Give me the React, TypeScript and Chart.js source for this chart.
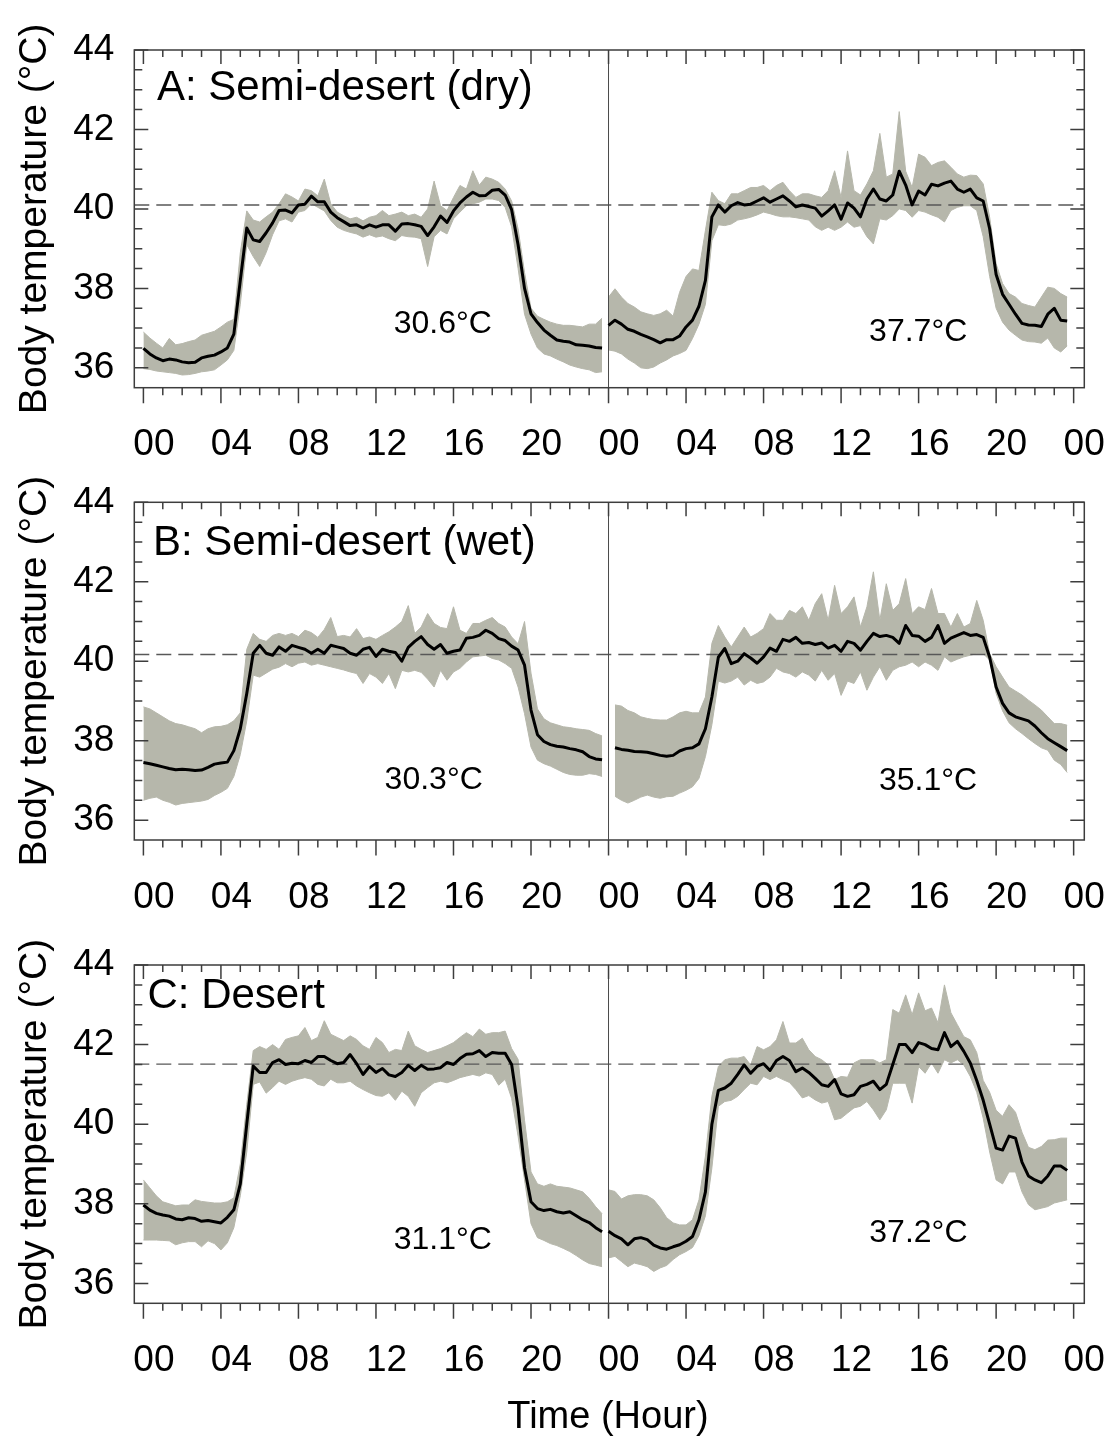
import React, { useEffect, useRef } from "react";
import { Chart, registerables } from "chart.js";

Chart.register(...registerables);

// ---------- axis definitions ----------
const STEP_HOURS = 1 / 3; // readings every 20 minutes
const X_MIN = -0.47;
const X_MAX = 48.55;
const Y_MIN = 35.5;
const Y_MAX = 44;

const xTickHours = [0, 4, 8, 12, 16, 20, 24, 28, 32, 36, 40, 44, 48];
const xTickLabels = ["00", "04", "08", "12", "16", "20", "00", "04", "08", "12", "16", "20", "00"];
const yTickValues = [36, 38, 40, 42, 44];

// ---------- Panel A: Semi-desert (dry) ----------
const semiDryDay1Mean = [
  36.49, 36.35, 36.25, 36.18, 36.22, 36.2, 36.15, 36.13, 36.14, 36.25, 36.29, 36.32,
  36.4, 36.5, 36.85, 38.2, 39.52, 39.22, 39.18, 39.4, 39.65, 39.96, 39.97, 39.9,
  40.1, 40.12, 40.32, 40.18, 40.18, 39.92, 39.78, 39.68, 39.58, 39.6, 39.52, 39.6,
  39.54, 39.6, 39.6, 39.44, 39.62, 39.63, 39.6, 39.56, 39.33, 39.55, 39.82, 39.66,
  39.95, 40.15, 40.3, 40.42, 40.33, 40.34, 40.47, 40.49, 40.35, 39.98, 39.1, 38.0,
  37.36, 37.14, 36.95, 36.82, 36.7, 36.67, 36.65, 36.58, 36.57, 36.55, 36.51, 36.5,
];
const semiDryDay1Upper = [
  36.9, 36.75, 36.62, 36.5, 36.74, 36.58, 36.61, 36.66, 36.7, 36.82, 36.87, 36.92,
  37.03, 37.15, 37.22, 38.9, 39.95, 39.72, 39.67, 39.8, 39.92, 40.13, 40.38, 40.3,
  40.2, 40.5, 40.46, 40.33, 40.75, 40.13, 39.92, 39.83, 39.75, 39.79, 39.7, 39.79,
  39.83, 39.96, 39.83, 39.87, 39.92, 39.83, 39.87, 39.79, 40.0, 40.7, 40.08, 39.96,
  40.29, 40.59, 40.5, 40.96, 40.6, 40.8, 40.75, 40.67, 40.5, 40.2, 39.5, 38.4,
  37.5, 37.3, 37.22, 37.15, 37.1, 37.07, 37.07, 37.05, 37.03, 37.1, 37.1, 37.25,
];
const semiDryDay1Lower = [
  35.98, 35.96, 35.92, 35.9, 35.88, 35.86, 35.82, 35.83, 35.86, 35.9, 35.92, 35.95,
  36.07, 36.2, 36.44, 37.6, 39.1, 38.8, 38.55, 38.9, 39.35, 39.7, 39.75, 39.67,
  39.92, 39.96, 40.13, 40.04, 39.95, 39.71, 39.54, 39.46, 39.41, 39.37, 39.29, 39.35,
  39.29, 39.32, 39.25, 39.2, 39.33, 39.3, 39.29, 39.25, 38.55, 39.3, 39.46, 39.37,
  39.75, 39.92, 40.08, 40.13, 40.17, 40.25, 40.25, 40.21, 40.04, 39.55, 38.5, 37.35,
  36.85, 36.5, 36.35, 36.3, 36.22, 36.15, 36.07, 36.02, 35.98, 35.95, 35.88, 35.9,
];
const semiDryDay2Mean = [
  37.07, 37.2, 37.1, 36.97, 36.92, 36.84, 36.78, 36.71, 36.63, 36.71, 36.71, 36.8,
  37.03, 37.2, 37.55, 38.2, 39.8, 40.1, 39.92, 40.08, 40.16, 40.1, 40.12, 40.2,
  40.28, 40.17, 40.25, 40.33, 40.2, 40.05, 40.1, 40.06, 40.02, 39.82, 39.95, 40.1,
  39.74, 40.15, 40.02, 39.8, 40.25, 40.5, 40.25, 40.2, 40.35, 40.95, 40.6, 40.1,
  40.45, 40.35, 40.62, 40.58, 40.65, 40.7, 40.5, 40.42, 40.5, 40.28, 40.2, 39.5,
  38.35, 37.85, 37.6, 37.35, 37.12, 37.08, 37.07, 37.04, 37.35, 37.5, 37.2, 37.18,
];
const semiDryDay2Upper = [
  37.78, 37.99, 37.78, 37.62, 37.53, 37.41, 37.36, 37.32, 37.36, 37.45, 37.3, 37.9,
  38.3, 38.49, 38.45, 39.46, 40.42, 40.21, 40.13, 40.38, 40.38, 40.46, 40.54, 40.54,
  40.59, 40.46, 40.59, 40.67, 40.46, 40.29, 40.38, 40.38, 40.33, 40.29, 40.46, 40.96,
  40.29, 41.46, 40.46, 40.35, 40.63, 40.96, 41.9, 40.8, 40.88, 42.45, 40.95, 40.54,
  41.38, 41.3, 41.09, 41.17, 41.21, 41.05, 40.88, 40.8, 40.85, 40.84, 40.63, 39.79,
  38.62, 38.12, 37.87, 37.78, 37.62, 37.57, 37.53, 37.78, 38.03, 38.0, 37.87, 37.78,
];
const semiDryDay2Lower = [
  36.45, 36.42, 36.35, 36.22, 36.12, 36.0, 35.98, 36.02, 36.12, 36.2, 36.3, 36.36,
  36.44, 36.74, 37.1, 37.6, 39.2, 39.6, 39.58, 39.62, 39.72, 39.75, 39.79, 39.85,
  39.92, 39.88, 39.83, 39.8, 39.8, 39.78, 39.75, 39.72, 39.55, 39.46, 39.54, 39.46,
  39.54, 39.67, 39.54, 39.58, 39.3, 39.12, 39.75, 39.72, 39.83, 40.0, 39.96, 39.79,
  39.96, 39.92, 39.85, 39.79, 39.67, 39.96, 40.04, 40.08, 40.08, 39.96, 39.3, 38.3,
  37.5, 37.15, 36.95, 36.82, 36.7, 36.66, 36.65, 36.62, 36.75, 36.5, 36.4, 36.55,
];

// ---------- Panel B: Semi-desert (wet) ----------
const semiWetDay1Mean = [
  37.45, 37.42, 37.38, 37.34, 37.3, 37.27, 37.28, 37.27, 37.25, 37.26, 37.33, 37.41,
  37.44, 37.46, 37.75, 38.3, 39.19, 40.2, 40.4, 40.2, 40.15, 40.36, 40.25, 40.4,
  40.35, 40.3, 40.2, 40.3, 40.2, 40.4, 40.36, 40.32, 40.2, 40.15, 40.3, 40.35,
  40.12, 40.3, 40.25, 40.22, 40.0, 40.35, 40.5, 40.62, 40.42, 40.3, 40.42, 40.2,
  40.25, 40.28, 40.58, 40.6, 40.65, 40.78, 40.7, 40.57, 40.52, 40.38, 40.28, 39.9,
  38.77, 38.15, 37.98, 37.9, 37.86, 37.84, 37.8, 37.77, 37.72, 37.6, 37.54, 37.52,
];
const semiWetDay1Upper = [
  38.85, 38.8, 38.7, 38.6, 38.5, 38.43, 38.4, 38.35, 38.3, 38.2, 38.3, 38.35,
  38.36, 38.4, 38.5, 38.7, 40.3, 40.7, 40.55, 40.5, 40.65, 40.7, 40.65, 40.7,
  40.62, 40.78, 40.72, 40.6, 40.8, 41.1, 40.62, 40.65, 40.61, 40.82, 40.57, 40.61,
  40.55, 40.65, 40.74, 40.86, 41.0, 41.4, 40.7, 40.86, 41.2, 40.95, 40.85, 40.82,
  41.37, 40.78, 40.7, 40.95, 40.95, 41.03, 41.1, 40.95, 40.86, 40.61, 40.44, 41.0,
  39.7, 38.8, 38.55, 38.45, 38.4, 38.35, 38.33, 38.3, 38.28, 38.26, 38.18, 38.12,
];
const semiWetDay1Lower = [
  36.5, 36.55, 36.58, 36.5, 36.45, 36.38, 36.42, 36.44, 36.46, 36.48, 36.52, 36.62,
  36.7, 36.8, 37.1, 37.65, 38.5, 39.65, 39.6, 39.7, 39.8, 39.85, 39.94, 39.86,
  39.95, 39.98, 39.9, 39.94, 39.9, 39.86, 39.82, 39.78, 39.73, 39.69, 39.44, 39.69,
  39.6, 39.44, 39.69, 39.31, 39.77, 39.73, 39.77, 39.72, 39.55, 39.35, 39.77, 39.52,
  39.73, 39.82, 39.98, 40.11, 40.13, 40.15, 40.07, 40.03, 39.94, 39.82, 39.35, 38.68,
  37.84, 37.51, 37.42, 37.36, 37.28, 37.2, 37.15, 37.13, 37.13, 37.17, 37.15, 37.1,
];
const semiWetDay2Mean = [
  null, 37.82, 37.78, 37.76, 37.73, 37.72, 37.71, 37.67, 37.63, 37.61, 37.63, 37.74,
  37.8, 37.82, 37.92, 38.3, 39.1, 40.1, 40.32, 39.94, 40.0, 40.19, 40.08, 39.95,
  40.11, 40.33, 40.25, 40.55, 40.5, 40.6, 40.45, 40.47, 40.42, 40.46, 40.33, 40.4,
  40.25, 40.5, 40.45, 40.28, 40.5, 40.7, 40.62, 40.65, 40.6, 40.45, 40.9, 40.65,
  40.63, 40.5, 40.6, 40.9, 40.45, 40.58, 40.65, 40.72, 40.65, 40.67, 40.6, 40.1,
  39.35, 38.94, 38.7, 38.6, 38.55, 38.5, 38.37, 38.2, 38.05, 37.95, 37.85, 37.75,
];
const semiWetDay2Upper = [
  null, 38.9, 38.87, 38.76, 38.7, 38.6, 38.56, 38.53, 38.52, 38.52, 38.6, 38.7,
  38.74, 38.7, 38.7, 39.1, 40.45, 40.9, 40.61, 40.36, 40.61, 40.86, 40.61, 40.7,
  40.82, 41.2, 41.03, 41.03, 41.28, 41.2, 41.37, 41.03, 41.45, 41.7, 41.03, 41.91,
  41.2, 41.37, 41.62, 40.86, 41.37, 42.25, 41.03, 41.95, 41.28, 41.45, 42.08, 41.2,
  41.37, 41.3, 41.83, 41.2, 41.2, 40.86, 41.2, 40.86, 40.95, 41.53, 41.03, 40.19,
  39.86, 39.6, 39.35, 39.25, 39.15, 39.02, 38.9, 38.77, 38.6, 38.43, 38.43, 38.39,
];
const semiWetDay2Lower = [
  null, 36.6, 36.5, 36.43, 36.5, 36.58, 36.63, 36.58, 36.55, 36.59, 36.6, 36.68,
  36.75, 36.84, 37.05, 37.6, 38.4, 39.5, 39.45, 39.5, 39.6, 39.4, 39.52, 39.44,
  39.48, 39.6, 39.82, 39.73, 39.69, 39.6, 39.73, 39.65, 39.5, 39.77, 39.52, 39.69,
  39.14, 39.5, 39.44, 39.73, 39.27, 39.6, 39.86, 39.52, 39.77, 39.86, 39.9, 39.98,
  39.86, 39.98, 39.9, 39.77, 40.11, 39.98, 40.05, 40.11, 40.15, 40.19, 40.19, 40.03,
  39.19, 38.75, 38.45, 38.3, 38.18, 38.05, 37.93, 37.82, 37.76, 37.51, 37.4, 37.2,
];

// ---------- Panel C: Desert ----------
const desertDay1Mean = [
  37.97, 37.84, 37.76, 37.72, 37.69, 37.62, 37.6, 37.65, 37.63, 37.56, 37.58, 37.55,
  37.52, 37.66, 37.85, 38.5, 40.0, 41.46, 41.3, 41.3, 41.55, 41.62, 41.5, 41.53,
  41.52, 41.6, 41.55, 41.7, 41.7, 41.6, 41.52, 41.55, 41.75, 41.52, 41.25, 41.45,
  41.3, 41.4, 41.24, 41.2, 41.3, 41.48, 41.35, 41.48, 41.38, 41.39, 41.42, 41.55,
  41.5, 41.65, 41.76, 41.77, 41.85, 41.7, 41.8, 41.78, 41.78, 41.5, 40.4, 38.9,
  38.05, 37.88, 37.83, 37.86, 37.8, 37.77, 37.8, 37.7, 37.6, 37.53, 37.4, 37.3,
];
const desertDay1Upper = [
  38.6, 38.4, 38.2, 38.05, 38.0, 37.95, 37.97, 37.97, 38.1, 38.06, 38.04, 38.02,
  38.02, 38.05, 38.15, 39.0, 40.5, 41.85, 41.95, 41.88, 42.0, 41.88, 42.13, 42.18,
  42.22, 42.43, 42.1, 42.18, 42.6, 42.26, 42.18, 42.1, 42.22, 42.13, 41.97, 41.88,
  42.18, 42.05, 41.8, 41.88, 41.85, 42.34, 41.97, 41.88, 41.8, 41.85, 41.9, 41.97,
  42.05, 42.18, 42.3, 42.2, 42.39, 42.26, 42.3, 42.3, 42.34, 41.9, 41.63, 40.1,
  38.8, 38.5, 38.44, 38.5, 38.44, 38.42, 38.4, 38.35, 38.3, 38.14, 37.93, 37.75,
];
const desertDay1Lower = [
  37.09, 37.09, 37.09, 37.08, 37.07, 36.97, 37.02, 37.05, 37.05, 36.92, 37.07, 37.0,
  36.84, 37.02, 37.4, 38.2, 39.3, 41.0, 41.06, 40.78, 40.92, 41.08, 41.0, 41.08,
  41.13, 41.17, 41.13, 41.0, 40.96, 41.13, 41.04, 41.04, 41.08, 40.96, 40.87, 40.79,
  40.72, 40.7, 40.79, 40.6, 40.83, 40.7, 40.45, 40.79, 40.92, 41.04, 41.08, 41.04,
  41.1, 41.17, 41.21, 41.25, 41.21, 41.29, 41.25, 40.98, 41.13, 40.65, 39.7, 38.6,
  37.5, 37.15, 37.08, 37.0, 36.95, 36.88, 36.8, 36.7, 36.59, 36.5, 36.46, 36.42,
];
const desertDay2Mean = [
  37.31, 37.2, 37.12, 36.97, 37.12, 37.15, 37.1, 36.96, 36.89, 36.86, 36.92, 36.97,
  37.06, 37.18, 37.6, 38.3, 40.0, 40.85, 40.91, 41.03, 41.25, 41.49, 41.28, 41.45,
  41.52, 41.35, 41.6, 41.7, 41.6, 41.32, 41.41, 41.3, 41.15, 40.99, 40.95, 41.12,
  40.76, 40.7, 40.74, 40.95, 41.0, 41.08, 40.87, 41.0, 41.5, 42.0, 42.0, 41.8,
  42.05, 42.0, 41.9, 41.87, 42.3, 41.95, 42.08, 41.83, 41.54, 41.1, 40.6, 40.0,
  39.4, 39.35, 39.7, 39.65, 39.05, 38.7, 38.6, 38.53, 38.7, 38.95, 38.95, 38.84,
];
const desertDay2Upper = [
  38.35, 38.31, 38.12, 38.2, 38.23, 38.23, 38.2, 38.1, 37.9, 37.65, 37.52, 37.47,
  37.47, 37.6, 38.1, 39.2, 40.7, 41.45, 41.62, 41.66, 41.66, 41.7, 41.49, 41.95,
  41.87, 41.95, 42.12, 42.58, 42.04, 42.04, 42.16, 41.87, 41.7, 41.62, 41.49, 41.12,
  41.2, 41.18, 41.54, 41.62, 41.62, 41.62, 41.54, 41.62, 42.88, 42.79, 43.25, 42.75,
  43.3, 42.85, 42.92, 42.55, 43.5, 42.8, 42.5, 42.2, 42.12, 41.8, 41.1, 40.8,
  40.35, 40.2, 40.49, 40.3, 39.8, 39.42, 39.36, 39.44, 39.6, 39.61, 39.65, 39.65,
];
const desertDay2Lower = [
  36.64, 36.68, 36.55, 36.42, 36.51, 36.47, 36.42, 36.3, 36.39, 36.45, 36.6, 36.72,
  36.8, 36.9, 37.2, 37.7, 38.9, 40.45, 40.57, 40.6, 40.7, 40.87, 41.03, 40.99,
  41.2, 41.12, 41.2, 41.12, 41.05, 40.87, 40.66, 40.72, 40.61, 40.53, 40.57, 40.11,
  40.15, 40.28, 40.41, 40.45, 40.57, 40.36, 40.11, 40.36, 41.03, 41.03, 41.03, 40.53,
  41.45, 41.28, 41.54, 41.28, 41.62, 41.54, 41.62, 41.49, 41.2, 40.8, 40.15, 39.3,
  38.6, 38.5, 38.8, 38.8, 38.3, 37.98, 37.85, 37.89, 37.93, 38.02, 38.06, 38.1,
];

// reference (dashed) temperatures
const referenceTemps = [40.1, 40.17, 41.51];
const panelTitles = ["A: Semi-desert (dry)", "B: Semi-desert (wet)", "C: Desert"];
const airTempLabels = [
  ["30.6°C", "37.7°C"],
  ["30.3°C", "35.1°C"],
  ["31.1°C", "37.2°C"],
];
const airTempLabelHours = [
  [15.45, 39.98],
  [14.98, 40.49],
  [15.45, 39.99],
];
const airTempLabelTemps = [
  [37.09, 36.89],
  [37.0, 36.99],
  [37.08, 37.25],
];

// ---------- styling / layout ----------
const BAND = "rgb(182,183,171)";
const AXIS = "#3d3d3d";
const FONT = '"Liberation Sans", Arial, Helvetica, sans-serif';
const WIDTH = 1109;

type Series = (number | null)[];
type Day = { start: number; mean: Series; upper: Series; lower: Series };
type Panel = {
  title: string;
  reference: number;
  days: Day[];
  notes: { text: string; hour: number; temp: number }[];
};
type Frame = {
  top: number;
  height: number;
  padTop: number;
  padBottom: number;
  titleX: number;
  titleY: number;
  xTitle: boolean;
};

const dayData: [Series, Series, Series][][] = [
  [
    [semiDryDay1Mean, semiDryDay1Upper, semiDryDay1Lower],
    [semiDryDay2Mean, semiDryDay2Upper, semiDryDay2Lower],
  ],
  [
    [semiWetDay1Mean, semiWetDay1Upper, semiWetDay1Lower],
    [semiWetDay2Mean, semiWetDay2Upper, semiWetDay2Lower],
  ],
  [
    [desertDay1Mean, desertDay1Upper, desertDay1Lower],
    [desertDay2Mean, desertDay2Upper, desertDay2Lower],
  ],
];

const PANELS: Panel[] = panelTitles.map((title, i) => ({
  title,
  reference: referenceTemps[i],
  days: dayData[i].map(([mean, upper, lower], d) => ({ start: d * 24, mean, upper, lower })),
  notes: airTempLabels[i].map((text, j) => ({
    text,
    hour: airTempLabelHours[i][j],
    temp: airTempLabelTemps[i][j],
  })),
}));

const FRAMES: Frame[] = [
  { top: 0, height: 470, padTop: 50, padBottom: 82.3, titleX: 157, titleY: 99.5, xTitle: false },
  { top: 470, height: 460, padTop: 32.3, padBottom: 90, titleX: 153, titleY: 85, xTitle: false },
  { top: 930, height: 508, padTop: 35, padBottom: 134.7, titleX: 147.5, titleY: 78.3, xTitle: true },
];

function makeFramePlugin(panel: Panel, frame: Frame) {
  return {
    id: "panelFrame",
    afterDraw(chart: any) {
      const { ctx, chartArea: a } = chart;
      const xs = chart.scales.x;
      const ys = chart.scales.y;
      ctx.save();
      ctx.strokeStyle = AXIS;
      ctx.lineWidth = 1.5;
      ctx.lineCap = "butt";
      ctx.beginPath();
      // hour ticks: outside at bottom, inside at top
      for (let h = 0; h <= 48; h++) {
        const px = xs.getPixelForValue(h);
        const major = h % 4 === 0;
        ctx.moveTo(px, a.bottom);
        ctx.lineTo(px, a.bottom + (major ? 15.5 : 7.5));
        ctx.moveTo(px, a.top);
        ctx.lineTo(px, a.top + (major ? 14 : 7));
      }
      // temperature ticks: inside on both sides
      for (let v = 36; v <= 44; v += 0.5) {
        const py = ys.getPixelForValue(v);
        const major = v % 2 === 0;
        const len = major ? 14 : 8;
        ctx.moveTo(a.left, py);
        ctx.lineTo(a.left + len, py);
        ctx.moveTo(a.right, py);
        ctx.lineTo(a.right - len, py);
      }
      ctx.stroke();
      ctx.strokeRect(a.left, a.top, a.right - a.left, a.bottom - a.top);

      ctx.fillStyle = "#000";
      // x tick labels
      ctx.font = `37px ${FONT}`;
      ctx.textAlign = "center";
      ctx.textBaseline = "alphabetic";
      xTickHours.forEach((h, i) => {
        ctx.fillText(xTickLabels[i], xs.getPixelForValue(h) + 10.5, a.bottom + 67.5);
      });
      // y tick labels
      ctx.textAlign = "right";
      ctx.textBaseline = "middle";
      yTickValues.forEach((v) => {
        ctx.fillText(String(v), a.left - 20, ys.getPixelForValue(v));
      });
      // panel title
      ctx.font = `42px ${FONT}`;
      ctx.textAlign = "left";
      ctx.textBaseline = "alphabetic";
      ctx.fillText(panel.title, frame.titleX, frame.titleY);
      // air temperature notes
      ctx.font = `32px ${FONT}`;
      ctx.textAlign = "center";
      ctx.textBaseline = "middle";
      panel.notes.forEach((n) => {
        ctx.fillText(n.text, xs.getPixelForValue(n.hour), ys.getPixelForValue(n.temp));
      });
      // y axis title
      ctx.save();
      ctx.translate(46, (a.top + a.bottom) / 2);
      ctx.rotate(-Math.PI / 2);
      ctx.font = `39px ${FONT}`;
      ctx.textAlign = "center";
      ctx.textBaseline = "alphabetic";
      ctx.fillText("Body temperature (°C)", 0, 0);
      ctx.restore();
      // x axis title
      if (frame.xTitle) {
        ctx.font = `38px ${FONT}`;
        ctx.textAlign = "center";
        ctx.textBaseline = "alphabetic";
        ctx.fillText("Time (Hour)", 608, a.bottom + 124.5);
      }
      ctx.restore();
    },
  };
}

function buildDatasets(panel: Panel) {
  const ds: any[] = [];
  const pts = (day: Day, arr: Series) =>
    arr.map((v, k) => ({ x: day.start + k * STEP_HOURS, y: v }));
  panel.days.forEach((day) => {
    ds.push({
      data: pts(day, day.lower),
      borderColor: BAND,
      backgroundColor: BAND,
      borderWidth: 1,
      pointRadius: 0,
      fill: false,
      order: 5,
    });
    ds.push({
      data: pts(day, day.upper),
      borderColor: BAND,
      backgroundColor: BAND,
      borderWidth: 1,
      pointRadius: 0,
      fill: "-1",
      order: 5,
    });
  });
  ds.push({
    data: [
      { x: X_MIN, y: panel.reference },
      { x: X_MAX, y: panel.reference },
    ],
    borderColor: "#585858",
    borderWidth: 1.4,
    borderDash: [15, 7],
    pointRadius: 0,
    fill: false,
    order: 3,
  });
  ds.push({
    data: [
      { x: 24, y: Y_MIN },
      { x: 24, y: Y_MAX },
    ],
    borderColor: "#4a4a4a",
    borderWidth: 1,
    pointRadius: 0,
    fill: false,
    order: 2,
  });
  panel.days.forEach((day) => {
    ds.push({
      data: pts(day, day.mean),
      borderColor: "#000",
      borderWidth: 3,
      borderJoinStyle: "round",
      pointRadius: 0,
      fill: false,
      order: 1,
    });
  });
  return ds;
}

function PanelChart({ panel, frame }: { panel: Panel; frame: Frame }) {
  const ref = useRef<HTMLCanvasElement>(null);
  useEffect(() => {
    const chart = new Chart(ref.current as HTMLCanvasElement, {
      type: "line",
      data: { datasets: buildDatasets(panel) },
      options: {
        animation: false,
        responsive: false,
        maintainAspectRatio: false,
        devicePixelRatio: 1,
        events: [],
        layout: {
          padding: { left: 134.3, right: 24.7, top: frame.padTop, bottom: frame.padBottom },
        },
        plugins: {
          legend: { display: false },
          tooltip: { enabled: false },
          filler: { propagate: false },
        },
        scales: {
          x: { type: "linear", min: X_MIN, max: X_MAX, display: false },
          y: { type: "linear", min: Y_MIN, max: Y_MAX, display: false },
        },
      } as any,
      plugins: [makeFramePlugin(panel, frame)],
    });
    return () => chart.destroy();
  }, [panel, frame]);
  return (
    <canvas
      ref={ref}
      width={WIDTH}
      height={frame.height}
      style={{
        position: "absolute",
        left: 0,
        top: frame.top,
        width: WIDTH,
        height: frame.height,
        display: "block",
      }}
    />
  );
}

export default function App() {
  return (
    <div
      style={{
        position: "absolute",
        left: 0,
        top: 0,
        width: WIDTH,
        height: 1438,
        background: "#fff",
        overflow: "hidden",
      }}
    >
      {PANELS.map((p, i) => (
        <PanelChart key={i} panel={p} frame={FRAMES[i]} />
      ))}
    </div>
  );
}
